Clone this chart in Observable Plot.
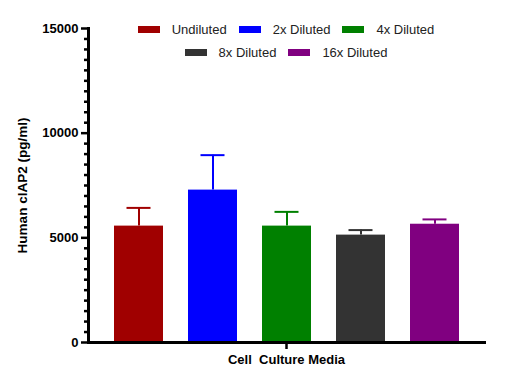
<!DOCTYPE html>
<html>
<head>
<meta charset="utf-8">
<script src="https://cdn.jsdelivr.net/npm/d3@7"></script>
<script src="https://cdn.jsdelivr.net/npm/@observablehq/plot@0.6"></script>
<style>
  html, body { margin: 0; padding: 0; background: #fff; }
  #wrap { position: relative; width: 529px; height: 389px; font-family: Arial, "Liberation Sans", sans-serif; }
  #legend { position: absolute; left: 88px; width: 396px; top: 18px; }
  .row { display: flex; justify-content: center; align-items: center; height: 23px; }
  .item { display: flex; align-items: center; margin: 0 6px; font-size: 13px; color: #222; }
  .sw { width: 22px; height: 7px; margin-right: 12px; }
</style>
</head>
<body>
<div id="wrap"><div id="legend"></div></div>
<script>
const group = "Cell  Culture Media";
const series = ["Undiluted", "2x Diluted", "4x Diluted", "8x Diluted", "16x Diluted"];
const means = [5560, 7280, 5560, 5130, 5650];
const errors = [870, 1670, 680, 240, 230];
const colors = ["#a00000", "#0000ff", "#008000", "#333333", "#800080"];
const majorTicks = [0, 5000, 10000, 15000];
const minorTicks = d3.range(0, 15001, 500).filter(v => v % 5000 !== 0);
const legendRows = [[0, 1, 2], [3, 4]];

const data = series.map((s, i) => ({group, series: s, mean: means[i], top: means[i] + errors[i]}));

const chart = Plot.plot({
  width: 529,
  height: 389,
  marginLeft: 88,
  marginRight: 45,
  marginTop: 28,
  marginBottom: 47,
  style: {fontFamily: "Arial, 'Liberation Sans', sans-serif", color: "#000", background: "#fff"},
  fx: {domain: [group], padding: 0, label: null},
  x: {domain: series, padding: 0.34, axis: null},
  y: {domain: [0, 15000], axis: null},
  color: {domain: series, range: colors},
  marks: [
    Plot.barY(data, {fx: "group", x: "series", y: "mean", fill: "series"}),
    Plot.ruleX(data, {fx: "group", x: "series", y1: "mean", y2: "top", stroke: "series", strokeWidth: 2}),
    Plot.tickY(data, {fx: "group", x: "series", y: "top", stroke: "series", strokeWidth: 2, insetLeft: 12.5, insetRight: 12.5}),
    Plot.axisY({ticks: minorTicks, tickSize: 4, tickFormat: () => "", label: null, strokeWidth: 2.5, stroke: "#000"}),
    Plot.axisY({ticks: majorTicks, tickSize: 7, tickPadding: 3, tickFormat: d3.format("d"), label: null,
      fontSize: 13, fontWeight: "bold", strokeWidth: 2.5, stroke: "#000", fill: "#000"}),
    Plot.axisFx({anchor: "bottom", tickSize: 7, tickPadding: 5, label: null, fontSize: 13, fontWeight: "bold", strokeWidth: 2.5, stroke: "#000", fill: "#000"}),
    Plot.frame({anchor: "left", strokeWidth: 3, stroke: "#000"}),
    Plot.frame({anchor: "bottom", strokeWidth: 3, stroke: "#000"}),
    Plot.text(["Human cIAP2 (pg/ml)"], {frameAnchor: "left", textAnchor: "middle", rotate: -90, dx: -66, dy: 0, fontSize: 13.5, fontWeight: "bold", fill: "#000"})
  ]
});
document.getElementById("wrap").prepend(chart);

const legend = document.getElementById("legend");
for (const row of legendRows) {
  const r = document.createElement("div");
  r.className = "row";
  for (const i of row) {
    const it = document.createElement("div");
    it.className = "item";
    const sw = document.createElement("span");
    sw.className = "sw";
    sw.style.background = colors[i];
    const t = document.createElement("span");
    t.textContent = series[i];
    it.append(sw, t);
    r.append(it);
  }
  legend.append(r);
}
</script>
</body>
</html>
